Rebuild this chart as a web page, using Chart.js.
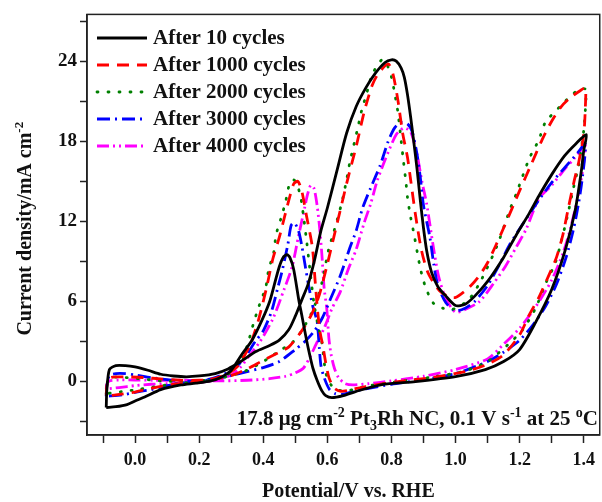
<!DOCTYPE html>
<html>
<head>
<meta charset="utf-8">
<script src="https://cdn.jsdelivr.net/npm/chart.js@4.4.1/dist/chart.umd.min.js"></script>
<style>
  html, body { margin: 0; padding: 0; background: #fff; }
  #wrap { width: 602px; height: 502px; }
</style>
</head>
<body>
<div id="wrap"><canvas id="cv" width="602" height="502"></canvas></div>
<script>
// [potential V, current density mA cm-2], forward scan then backward scan
var after10 = [[-0.09,-1.94],[-0.088,-0.6],[-0.08,0.9],[-0.06,1.2],[-0.03,1.2],[0.0,1.1],[0.04,0.85],[0.08,0.55],[0.12,0.42],[0.16,0.36],[0.2,0.42],[0.25,0.6],[0.29,0.95],[0.33,1.5],[0.377,2.25],[0.42,2.7],[0.45,3.1],[0.48,3.9],[0.5,4.9],[0.52,6.1],[0.54,7.3],[0.56,9.1],[0.58,11.3],[0.6,13.0],[0.63,15.8],[0.66,18.6],[0.69,20.6],[0.72,22.0],[0.75,23.1],[0.78,23.9],[0.8,24.1],[0.815,24.0],[0.83,23.5],[0.84,22.8],[0.85,21.5],[0.86,19.8],[0.87,17.9],[0.88,15.9],[0.89,13.6],[0.9,11.5],[0.91,9.8],[0.925,8.2],[0.945,7.1],[0.97,6.4],[1.0,5.7],[1.03,5.8],[1.06,6.4],[1.1,7.5],[1.15,9.3],[1.19,11.0],[1.23,12.6],[1.26,13.9],[1.3,15.5],[1.34,16.9],[1.375,17.8],[1.408,18.5],
  [1.4,17.3],[1.393,15.85],[1.374,12.9],[1.343,9.9],[1.3,6.9],[1.249,4.4],[1.2,2.4],[1.15,1.5],[1.093,0.9],[1.0,0.37],[0.875,0.0],[0.77,-0.22],[0.688,-0.75],[0.65,-1.05],[0.614,-1.2],[0.595,-1.05],[0.583,-0.7],[0.568,0.1],[0.555,1.0],[0.545,2.0],[0.536,3.0],[0.52,5.0],[0.511,6.1],[0.495,8.4],[0.483,9.3],[0.474,9.5],[0.462,9.3],[0.45,8.6],[0.435,7.3],[0.42,6.0],[0.396,4.6],[0.365,3.1],[0.335,2.1],[0.3,0.85],[0.27,0.35],[0.237,0.05],[0.19,-0.12],[0.143,-0.25],[0.08,-0.6],[0.03,-1.15],[0.0,-1.45],[-0.025,-1.72],[-0.06,-1.88],[-0.09,-1.94]];

var after1000 = [[-0.09,-1.05],[-0.088,-0.3],[-0.08,0.25],[-0.06,0.35],[-0.02,0.35],[0.03,0.3],[0.08,0.2],[0.14,0.1],[0.2,0.1],[0.25,0.2],[0.3,0.45],[0.35,0.95],[0.4,1.6],[0.45,2.2],[0.48,2.6],[0.52,3.8],[0.55,5.0],[0.575,6.5],[0.6,8.8],[0.62,10.8],[0.64,12.8],[0.665,15.3],[0.69,17.6],[0.715,20.2],[0.74,22.2],[0.76,23.1],[0.79,23.8],[0.805,23.0],[0.82,21.1],[0.835,18.6],[0.85,16.8],[0.86,15.1],[0.875,12.5],[0.894,9.8],[0.915,8.1],[0.95,6.8],[0.98,6.35],[1.0,6.3],[1.04,7.0],[1.07,7.8],[1.1,8.9],[1.15,11.5],[1.2,14.3],[1.235,16.2],[1.27,18.1],[1.3,19.5],[1.33,20.6],[1.36,21.3],[1.39,21.8],[1.405,22.0],
  [1.405,20.5],[1.4,18.5],[1.385,16.5],[1.37,15.0],[1.352,13.0],[1.335,11.0],[1.315,9.3],[1.29,7.9],[1.26,6.3],[1.23,5.0],[1.2,3.5],[1.15,2.0],[1.1,1.3],[1.03,0.75],[0.925,0.3],[0.82,0.0],[0.72,-0.37],[0.665,-0.65],[0.64,-0.72],[0.62,-0.45],[0.605,0.3],[0.595,1.4],[0.585,2.8],[0.578,3.6],[0.57,5.2],[0.562,7.5],[0.553,10.1],[0.535,12.4],[0.52,14.3],[0.508,15.0],[0.495,14.8],[0.48,13.6],[0.465,12.2],[0.45,10.8],[0.43,9.2],[0.41,7.0],[0.385,4.6],[0.36,2.8],[0.34,1.9],[0.32,1.15],[0.29,0.6],[0.25,0.25],[0.17,-0.07],[0.09,-0.3],[0.0,-0.78],[-0.06,-1.0],[-0.09,-1.05]];

var after2000 = [[-0.09,-0.9],[-0.088,-0.2],[-0.08,0.25],[-0.06,0.33],[-0.03,0.3],[0.02,0.2],[0.08,0.05],[0.14,0.0],[0.2,0.05],[0.26,0.25],[0.3,0.45],[0.34,0.75],[0.386,1.3],[0.42,1.8],[0.45,2.3],[0.49,2.9],[0.52,3.8],[0.55,5.1],[0.57,6.3],[0.583,7.4],[0.604,9.9],[0.62,11.2],[0.645,13.4],[0.66,15.1],[0.67,16.4],[0.695,19.0],[0.707,20.3],[0.723,21.6],[0.74,23.0],[0.77,24.1],[0.785,23.8],[0.8,22.8],[0.81,21.6],[0.82,20.2],[0.83,18.1],[0.838,16.4],[0.845,15.0],[0.85,13.8],[0.86,12.3],[0.87,11.1],[0.89,8.5],[0.906,7.1],[0.93,5.9],[0.96,5.5],[0.99,5.4],[1.04,6.1],[1.08,7.6],[1.13,10.2],[1.17,12.9],[1.19,14.1],[1.23,16.7],[1.26,18.1],[1.28,19.4],[1.33,20.7],[1.38,21.8],[1.405,21.9],
  [1.405,20.3],[1.4,18.8],[1.385,16.3],[1.368,14.5],[1.35,12.5],[1.33,10.5],[1.31,8.8],[1.28,7.3],[1.25,5.5],[1.21,3.9],[1.165,2.8],[1.1,1.5],[1.03,0.8],[0.93,0.35],[0.82,0.0],[0.72,-0.35],[0.66,-0.7],[0.63,-0.6],[0.61,-0.2],[0.595,0.67],[0.583,2.9],[0.57,4.3],[0.558,5.9],[0.545,8.5],[0.536,10.4],[0.525,12.5],[0.517,13.8],[0.505,14.8],[0.495,15.1],[0.483,14.9],[0.47,13.5],[0.455,12.2],[0.44,11.0],[0.433,9.7],[0.417,8.4],[0.408,7.1],[0.386,5.6],[0.37,4.4],[0.355,3.1],[0.34,2.0],[0.32,1.2],[0.3,0.7],[0.25,0.15],[0.2,0.0],[0.1,-0.25],[0.006,-0.6],[-0.04,-0.75],[-0.09,-0.9]];

var after3000 = [[-0.09,-1.1],[-0.088,-0.3],[-0.08,0.45],[-0.06,0.6],[-0.03,0.6],[0.0,0.5],[0.05,0.3],[0.1,0.15],[0.15,0.05],[0.2,0.05],[0.25,0.2],[0.3,0.45],[0.35,0.75],[0.4,1.05],[0.45,1.5],[0.5,2.4],[0.53,3.0],[0.56,3.8],[0.585,4.8],[0.61,6.2],[0.64,7.9],[0.67,10.0],[0.69,11.3],[0.71,13.0],[0.735,14.5],[0.765,16.2],[0.79,18.0],[0.81,19.0],[0.83,19.4],[0.85,19.3],[0.865,18.7],[0.88,17.0],[0.89,15.3],[0.9,13.2],[0.92,10.8],[0.932,8.8],[0.945,7.2],[0.97,5.9],[1.0,5.3],[1.03,5.5],[1.06,6.0],[1.1,7.2],[1.14,8.9],[1.17,10.3],[1.21,11.8],[1.26,13.6],[1.3,14.9],[1.34,16.0],[1.38,17.1],[1.405,17.8],
  [1.397,15.5],[1.385,13.5],[1.368,11.4],[1.345,9.3],[1.315,7.3],[1.28,5.6],[1.24,4.2],[1.2,3.1],[1.15,2.2],[1.1,1.5],[1.0,0.6],[0.9,0.15],[0.8,-0.2],[0.72,-0.55],[0.68,-0.75],[0.645,-0.95],[0.625,-0.9],[0.607,-0.6],[0.59,0.3],[0.58,1.2],[0.575,2.5],[0.568,4.5],[0.555,5.6],[0.54,7.4],[0.53,8.8],[0.52,10.2],[0.51,11.3],[0.497,11.9],[0.487,11.7],[0.477,10.3],[0.46,8.4],[0.445,7.0],[0.425,5.2],[0.4,3.8],[0.375,3.0],[0.345,1.9],[0.32,1.2],[0.29,0.7],[0.25,0.3],[0.2,0.0],[0.15,-0.1],[0.1,-0.3],[0.05,-0.6],[0.0,-0.8],[-0.04,-1.0],[-0.09,-1.1]];

var after4000 = [[-0.09,-0.55],[-0.088,-0.2],[-0.08,0.05],[-0.05,0.12],[0.0,0.12],[0.06,0.1],[0.15,0.1],[0.25,0.05],[0.35,0.1],[0.42,0.22],[0.47,0.4],[0.5,0.65],[0.525,1.0],[0.545,1.8],[0.565,2.8],[0.59,4.0],[0.615,5.5],[0.64,6.7],[0.665,8.4],[0.69,9.9],[0.715,11.9],[0.735,13.3],[0.755,15.0],[0.78,16.6],[0.815,18.5],[0.84,19.0],[0.86,18.7],[0.88,17.0],[0.895,15.0],[0.91,13.3],[0.93,10.2],[0.947,7.9],[0.97,6.2],[1.0,5.2],[1.03,5.4],[1.075,6.0],[1.12,7.4],[1.155,8.6],[1.19,10.1],[1.22,11.4],[1.26,13.7],[1.3,14.7],[1.34,15.9],[1.37,16.7],[1.39,17.3],[1.405,17.9],
  [1.398,16.0],[1.383,14.0],[1.36,11.6],[1.335,9.6],[1.3,7.6],[1.25,5.6],[1.2,4.0],[1.15,2.8],[1.1,1.7],[1.0,0.9],[0.9,0.4],[0.8,0.05],[0.73,-0.15],[0.68,-0.25],[0.655,-0.15],[0.635,0.3],[0.622,1.0],[0.612,2.0],[0.605,3.2],[0.598,5.5],[0.59,7.0],[0.583,9.5],[0.576,11.5],[0.568,13.2],[0.558,14.5],[0.548,14.7],[0.538,14.0],[0.53,13.1],[0.51,10.9],[0.49,8.6],[0.465,6.9],[0.43,4.7],[0.39,3.0],[0.355,1.9],[0.33,1.1],[0.3,0.5],[0.25,0.1],[0.2,-0.05],[0.15,-0.1],[0.1,-0.15],[0.05,-0.2],[0.0,-0.3],[-0.05,-0.45],[-0.09,-0.55]];

var seriesNames = ['After 10 cycles', 'After 1000 cycles', 'After 2000 cycles', 'After 3000 cycles', 'After 4000 cycles'];
var xTicks = [-0.1, 0.0, 0.1, 0.2, 0.3, 0.4, 0.5, 0.6, 0.7, 0.8, 0.9, 1.0, 1.1, 1.2, 1.3, 1.4];
var yTicks = [-3, 0, 3, 6, 9, 12, 15, 18, 21, 24, 27];

var SERIF = '"Liberation Serif", "Times New Roman", serif';
var colors = ['#000000', '#ff0000', '#008000', '#0000ff', '#ff00ff'];
var dashes = [[], [12, 8], [1, 10], [13, 5, 2, 5], [12, 4, 2, 4, 2, 4]];
var caps = ['butt', 'butt', 'round', 'butt', 'butt'];

function toPoints(arr) {
  return arr.map(function(p) { return { x: p[0], y: p[1] }; });
}

var allSeries = [after10, after1000, after2000, after3000, after4000];
var datasets = allSeries.map(function(s, i) {
  return {
    label: seriesNames[i],
    data: toPoints(s),
    showLine: true,
    borderColor: colors[i],
    backgroundColor: colors[i],
    borderWidth: 2.8,
    borderDash: dashes[i],
    borderCapStyle: caps[i],
    pointRadius: 0,
    tension: 0.25,
    fill: false,
    order: i
  };
});

function drawRich(ctx, parts, x, y, align, size) {
  // parts: [text, kind]; kind n = normal, sup, sub
  var big = 'bold ' + size + 'px ' + SERIF, small = 'bold ' + Math.round(size * 0.65) + 'px ' + SERIF;
  var w = 0;
  parts.forEach(function(p) { ctx.font = p[1] === 'n' ? big : small; w += ctx.measureText(p[0]).width; });
  var cx = align === 'right' ? x - w : (align === 'center' ? x - w / 2 : x);
  ctx.textAlign = 'left';
  ctx.textBaseline = 'alphabetic';
  parts.forEach(function(p) {
    ctx.font = p[1] === 'n' ? big : small;
    var dy = p[1] === 'sup' ? -8 : (p[1] === 'sub' ? 5 : 0);
    ctx.fillText(p[0], cx, y + dy);
    cx += ctx.measureText(p[0]).width;
  });
}

var decor = {
  id: 'decor',
  afterDraw: function(chart) {
    var ctx = chart.ctx, a = chart.chartArea;
    ctx.save();
    // frame
    ctx.strokeStyle = '#222';
    ctx.lineWidth = 1.5;
    ctx.strokeRect(a.left, a.top, a.right - a.left, a.bottom - a.top);
    // legend
    chart.data.datasets.forEach(function(d, i) {
      var y = 38 + i * 27;
      ctx.beginPath();
      ctx.strokeStyle = d.borderColor;
      ctx.lineWidth = 2.8;
      ctx.lineCap = d.borderCapStyle;
      ctx.setLineDash(d.borderDash);
      ctx.moveTo(97, y);
      ctx.lineTo(147, y);
      ctx.stroke();
      ctx.setLineDash([]);
      ctx.fillStyle = '#111';
      ctx.font = 'bold 21px ' + SERIF;
      ctx.textAlign = 'left';
      ctx.textBaseline = 'middle';
      ctx.fillText(d.label, 153, y + 1);
    });
    ctx.fillStyle = '#111';
    // annotation
    drawRich(ctx, [['17.8 \u03bcg cm', 'n'], ['-2', 'sup'], [' Pt', 'n'], ['3', 'sub'], ['Rh NC, 0.1 V s', 'n'], ['-1', 'sup'], [' at 25 ', 'n'], ['o', 'sup'], ['C', 'n']], 598, 425, 'right', 21);
    // x title
    drawRich(ctx, [['Potential/V vs. RHE', 'n']], (a.left + a.right) / 2 + 5, 497, 'center', 20);
    // y title
    ctx.translate(31, (a.top + a.bottom) / 2 + 4);
    ctx.rotate(-Math.PI / 2);
    drawRich(ctx, [['Current density/mA cm', 'n'], ['-2', 'sup']], 0, 0, 'center', 20);
    ctx.restore();
  }
};

new Chart(document.getElementById('cv'), {
  type: 'scatter',
  data: { datasets: datasets },
  options: {
    responsive: false,
    animation: false,
    devicePixelRatio: 1,
    layout: { padding: { top: 14, right: 1, left: 0, bottom: 0 } },
    plugins: { legend: { display: false }, tooltip: { enabled: false } },
    scales: {
      x: {
        type: 'linear',
        min: -0.15,
        max: 1.45,
        afterBuildTicks: function(scale) { scale.ticks = xTicks.map(function(v) { return { value: v }; }); },
        afterFit: function(scale) { scale.height = 67; },
        ticks: {
          autoSkip: false,
          maxRotation: 0,
          padding: 7,
          color: '#111',
          font: { family: SERIF, size: 18, weight: 'bold' },
          callback: function(v) {
            var r = Math.round(v * 10);
            return (r >= 0 && r % 2 === 0) ? (r / 10).toFixed(1) : '';
          }
        },
        grid: { drawOnChartArea: false, drawTicks: true, tickLength: 8, tickColor: '#222', tickWidth: 1.5 },
        border: { display: true, color: '#222', width: 1.5 }
      },
      y: {
        type: 'linear',
        min: -4,
        max: 27.5,
        afterBuildTicks: function(scale) { scale.ticks = yTicks.map(function(v) { return { value: v }; }); },
        afterFit: function(scale) { scale.width = 87; },
        ticks: {
          autoSkip: false,
          padding: 3,
          color: '#111',
          font: { family: SERIF, size: 19, weight: 'bold' },
          callback: function(v) { return (v >= 0 && v % 6 === 0) ? String(v) : ''; }
        },
        grid: { drawOnChartArea: false, drawTicks: true, tickLength: 7, tickColor: '#222', tickWidth: 1.5 },
        border: { display: true, color: '#222', width: 1.5 }
      }
    }
  },
  plugins: [decor]
});
</script>
</body>
</html>
